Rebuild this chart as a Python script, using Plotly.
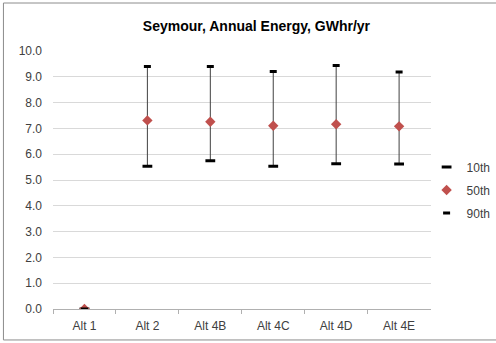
import plotly.graph_objects as go

categories = ["Alt 1", "Alt 2", "Alt 4B", "Alt 4C", "Alt 4D", "Alt 4E"]
p10 = [0.0, 5.53, 5.75, 5.53, 5.63, 5.62]
p50 = [0.0, 7.31, 7.26, 7.10, 7.16, 7.08]
p90 = [0.0, 9.40, 9.40, 9.21, 9.44, 9.19]
y_ticks = [0, 1, 2, 3, 4, 5, 6, 7, 8, 9, 10]

err_plus = [b - m for b, m in zip(p90, p50)]
err_minus = [m - a for m, a in zip(p50, p10)]

font_family = "Liberation Sans, Arial, sans-serif"

W, H = 496, 343
ML, MR, MT, MB = 53, 0, 51, 34
paper_w = W - ML - MR
axis_right = 434  # px where the plot area ends
dom_r = (axis_right - ML) / paper_w

fig = go.Figure()
# whisker line (no legend)
fig.add_trace(go.Scatter(
    x=categories, y=p50, mode="markers",
    marker=dict(size=1, color="rgba(0,0,0,0)"),
    error_y=dict(type="data", symmetric=False, array=err_plus, arrayminus=err_minus,
                 color="#404040", thickness=1, width=0),
    showlegend=False, hoverinfo="skip",
))
fig.add_trace(go.Scatter(
    x=categories, y=p10, mode="markers", name="10th", legendgroup="a",
    marker=dict(symbol="line-ew", size=7, line=dict(width=3, color="#000000")),
))
fig.add_trace(go.Scatter(
    x=categories, y=p50, mode="markers", name="50th", legendgroup="b",
    marker=dict(symbol="diamond", size=8, color="#c0504d", line=dict(width=0)),
))
fig.add_trace(go.Scatter(
    x=categories, y=p90, mode="markers", name="90th", legendgroup="c",
    marker=dict(symbol="line-ew", size=5, line=dict(width=3, color="#000000")),
))

fig.update_layout(
    width=W, height=H,
    margin=dict(l=ML, r=MR, t=MT, b=MB),
    paper_bgcolor="white", plot_bgcolor="white",
    font=dict(family=font_family, size=12, color="#404040"),
    title=dict(text="<b>Seymour, Annual Energy, GWhr/yr</b>", x=0.517, xanchor="center",
               y=0.925, yanchor="middle",
               font=dict(family=font_family, size=14, color="#000000")),
    xaxis=dict(type="category", domain=[0, dom_r], showgrid=False, showline=True,
               linecolor="#b0b0b0", linewidth=1, ticks="outside",
               tickson="boundaries", ticklen=4,
               tickcolor="#b0b0b0", tickfont=dict(size=12, color="#404040"),
               ticklabelstandoff=6,
               range=[-0.5, 5.5], zeroline=False),
    yaxis=dict(range=[0, 10], tickvals=y_ticks, tickformat=".1f", showgrid=True,
               gridcolor="#d9d9d9", gridwidth=1, zeroline=False, showline=False,
               ticks="", ticklabelstandoff=10,
               tickfont=dict(size=12, color="#404040")),
    legend=dict(x=(430 - ML) / paper_w, xanchor="left", y=0.461, yanchor="middle",
                font=dict(size=12, color="#404040"), tracegroupgap=4,
                itemwidth=30, bgcolor="rgba(0,0,0,0)"),
    shapes=[dict(type="rect", xref="paper", yref="paper",
                 x0=(3 - ML) / paper_w, x1=1.3, y0=-0.12, y1=1.186,
                 line=dict(color="#8c8c8c", width=1), fillcolor="rgba(0,0,0,0)",
                 layer="below")],
)

fig.write_html("out.html")
